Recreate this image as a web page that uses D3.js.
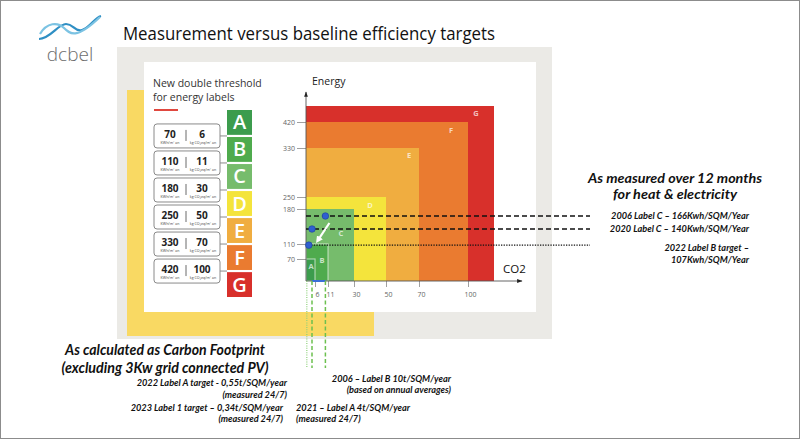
<!DOCTYPE html>
<html><head><meta charset="utf-8">
<script src="https://cdn.jsdelivr.net/npm/d3@7"></script>
<style>html,body{margin:0;padding:0;background:#fff}svg{display:block}</style>
</head><body><svg id="c" width="800" height="439"></svg>
<script>
// ---------- data ----------
const labels = ["A","B","C","D","E","F","G"];
const energyThresholds = [70,110,180,250,330,420];      // kWh/m² an
const co2Thresholds = [6,11,30,50,70,100];              // kg CO2eq/m² an
const energyExtent = [70,110,180,250,330,420,480];      // upper energy of each class box (G open-ended)
const co2Extent = [6,11,30,50,70,100,120];              // upper CO2 of each class box (G open-ended)
const labelColors = ["#3c9c4d","#4fab4d","#76bc6c","#f4e43c","#f0ad40","#ea7b30","#d8302b"];
const energyMeasures = [166,140,107];
const energyCo2 = [10,4,0.55];
const energyTexts = [["2006 Label C \u2013 166Kwh/SQM/Year"],["2020 Label C \u2013 140Kwh/SQM/Year"],["2022 Label B target \u2013","107Kwh/SQM/Year"]];
const co2Marks = [0.55,4,10];

const svg = d3.select("#c");
const font = "Lato, 'Open Sans', sans-serif";

// ---------- slide frame ----------
svg.append("rect").attr("x",0.5).attr("y",0.5).attr("width",799).attr("height",438).attr("fill","#fff").attr("stroke","#8c8c8c");

// logo
const logo = svg.append("g");
logo.append("path").attr("d","M39,39 C50,39 58,24 66,24 C74,24 74,32 82,30 C90,28 94,18 101,16")
  .attr("fill","none").attr("stroke","#2f8fc4").attr("stroke-width",2.2);
logo.append("path").attr("d","M40,34 C47,22 58,22 64,28 C70,34 76,40 100,17")
  .attr("fill","none").attr("stroke","#7cc3e3").attr("stroke-width",2.2);
logo.append("text").attr("x",70).attr("y",61).attr("text-anchor","middle")
  .attr("font-family","'Open Sans', sans-serif").attr("font-size",19).attr("font-weight",300)
  .attr("fill","#6d6d6d").text("dcbel");

svg.append("text").attr("x",123).attr("y",40).attr("font-family","'Open Sans', sans-serif")
  .attr("font-size",18).attr("fill","#111").attr("textLength",372).attr("lengthAdjust","spacingAndGlyphs")
  .text("Measurement versus baseline efficiency targets");

// panels
svg.append("rect").attr("x",117).attr("y",47).attr("width",435).attr("height",292).attr("fill","#ebeae6");
svg.append("rect").attr("x",127).attr("y",90).attr("width",17).attr("height",246).attr("fill","#f9d963");
svg.append("rect").attr("x",127).attr("y",312).attr("width",247).attr("height",24).attr("fill","#f9d963");
svg.append("rect").attr("x",144).attr("y",62).attr("width",392).attr("height",250).attr("fill","#fff");

// ---------- left legend ----------
svg.append("text").attr("x",153).attr("y",87).attr("font-family","'Open Sans', sans-serif").attr("font-size",10.5)
  .attr("fill","#333").text("New double threshold");
svg.append("text").attr("x",153).attr("y",101).attr("font-family","'Open Sans', sans-serif").attr("font-size",10.5)
  .attr("fill","#333").text("for energy labels");
svg.append("line").attr("x1",154).attr("x2",178).attr("y1",110).attr("y2",110).attr("stroke","#e0483f").attr("stroke-width",2);

const sq = d3.scaleBand().domain(labels).range([110,297]).paddingInner(0.08);
const sqG = svg.append("g");
sqG.selectAll("rect").data(labels).join("rect")
  .attr("x",227).attr("width",25).attr("y",d=>sq(d)).attr("height",sq.bandwidth())
  .attr("fill",(d,i)=>labelColors[i]);
sqG.selectAll("text").data(labels).join("text")
  .attr("x",239.5).attr("y",d=>sq(d)+sq.bandwidth()/2+7).attr("text-anchor","middle")
  .attr("font-family","'Open Sans', sans-serif").attr("font-size",20).attr("font-weight",600)
  .attr("fill","#fff").text(d=>d);

const boxes = svg.append("g").selectAll("g").data(energyThresholds).join("g")
  .attr("transform",(d,i)=>`translate(154,${(sq(labels[i])+sq.bandwidth()+sq(labels[i+1]))/2 - 12})`);
boxes.append("rect").attr("width",66).attr("height",24).attr("rx",3).attr("fill","#fff").attr("stroke","#8a8a8a").attr("stroke-width",1);
boxes.append("line").attr("x1",66).attr("x2",73).attr("y1",12).attr("y2",12).attr("stroke","#8a8a8a");
boxes.append("line").attr("x1",32).attr("x2",32).attr("y1",6).attr("y2",17).attr("stroke","#444").attr("stroke-width",0.8);
boxes.append("text").attr("x",16).attr("y",14).attr("text-anchor","middle").attr("font-family","'Open Sans', sans-serif")
  .attr("font-size",10).attr("font-weight",700).attr("fill","#222").text(d=>d);
boxes.append("text").attr("x",48).attr("y",14).attr("text-anchor","middle").attr("font-family","'Open Sans', sans-serif")
  .attr("font-size",10).attr("font-weight",700).attr("fill","#222").text((d,i)=>co2Thresholds[i]);
boxes.append("text").attr("x",16).attr("y",20).attr("text-anchor","middle").attr("font-family","'Open Sans', sans-serif")
  .attr("font-size",3.6).attr("fill","#444").text("KWh/m\u00b2 an");
boxes.append("text").attr("x",49).attr("y",20).attr("text-anchor","middle").attr("font-family","'Open Sans', sans-serif")
  .attr("font-size",3.6).attr("fill","#444").text("kg CO\u2082eq/m\u00b2 an");

// ---------- chart ----------
const y = d3.scaleLinear().domain([0,70,110,180,250,330,420,480]).range([281,259,244,209,197,148,122,106]);
const x = d3.scaleLinear().domain([0,6,11,30,50,70,100,120]).range([306,315,328,354,386,419,468,494]);

const cls = labels.map((l,i)=>({l,e:energyExtent[i],c:co2Extent[i],col:labelColors[i]})).reverse();
svg.append("g").selectAll("rect").data(cls).join("rect")
  .attr("x",x(0)).attr("y",d=>y(d.e)).attr("width",d=>x(d.c)-x(0)).attr("height",d=>y(0)-y(d.e))
  .attr("fill",d=>d.col)
  .attr("stroke",d=>(d.l==="A"||d.l==="B")?"rgba(255,255,255,0.55)":"none").attr("stroke-width",1.2);
const lblOff = {G:[-18,10],F:[-17,11],E:[-10,10],D:[-16,11],C:[-13,27],B:[-6,19],A:[-4,10]};
svg.append("g").selectAll("text").data(cls).join("text")
  .attr("x",d=>x(d.c)+lblOff[d.l][0]).attr("y",d=>y(d.e)+lblOff[d.l][1]).attr("text-anchor","middle")
  .attr("font-family","'Open Sans', sans-serif").attr("font-size",7.5).attr("font-weight",700)
  .attr("fill","rgba(255,255,255,0.7)").text(d=>d.l);

// axes
const defs = svg.append("defs");
defs.append("marker").attr("id","ar").attr("viewBox","0 0 10 10").attr("refX",9).attr("refY",5)
  .attr("markerWidth",6).attr("markerHeight",6).attr("orient","auto")
  .append("path").attr("d","M0,1.5 L10,5 L0,8.5 z").attr("fill","#222");
defs.append("marker").attr("id","wa").attr("viewBox","0 0 10 10").attr("refX",5).attr("refY",5)
  .attr("markerWidth",3.2).attr("markerHeight",3.2).attr("orient","auto")
  .append("path").attr("d","M0,0 L10,5 L0,10 z").attr("fill","#fff");

const yAx = svg.append("g").attr("transform",`translate(${x(0)},0)`)
  .call(d3.axisLeft(y).tickValues(energyThresholds).tickSize(9).tickPadding(2));
const xAx = svg.append("g").attr("transform",`translate(0,${y(0)})`)
  .call(d3.axisBottom(x).tickValues(co2Thresholds).tickSize(6).tickPadding(5));
[yAx,xAx].forEach(a=>{
  a.select(".domain").remove();
  a.selectAll(".tick line").attr("stroke","#888").attr("stroke-width",0.8);
  a.selectAll(".tick text").attr("fill","#666").attr("font-family","'Open Sans', sans-serif").attr("font-size",7);
});
xAx.selectAll(".tick text").attr("dx",d=>d<20?2:2);
svg.append("line").attr("x1",x(0)).attr("x2",x(0)).attr("y1",y(0)).attr("y2",92).attr("stroke","#555").attr("stroke-width",0.9).attr("marker-end","url(#ar)");
svg.append("line").attr("x1",x(0)).attr("x2",522).attr("y1",y(0)).attr("y2",y(0)).attr("stroke","#555").attr("stroke-width",0.9).attr("marker-end","url(#ar)");
svg.append("text").attr("x",312).attr("y",85).attr("font-family","'Open Sans', sans-serif").attr("font-size",10.5).attr("fill","#222").text("Energy");
svg.append("text").attr("x",503).attr("y",273).attr("font-family","'Open Sans', sans-serif").attr("font-size",11.5).attr("fill","#111").text("CO2");

// CO2 improvement segment along axis
svg.append("line").attr("x1",x(co2Marks[1])).attr("x2",x(co2Marks[2])).attr("y1",y(0)).attr("y2",y(0))
  .attr("stroke","#3a6fd8").attr("stroke-width",2);

// energy measurement lines
svg.append("g").selectAll("line").data(energyMeasures).join("line")
  .attr("x1",x(0)).attr("x2",590).attr("y1",d=>y(d)).attr("y2",d=>y(d))
  .attr("stroke","#111").attr("stroke-width",(d,i)=>i<2?1.4:1.3)
  .attr("stroke-dasharray",(d,i)=>i<2?"5,3":"1.3,1.3");

// co2 vertical lines
svg.append("g").selectAll("line").data(co2Marks).join("line")
  .attr("x1",d=>x(d)).attr("x2",d=>x(d)).attr("y1",y(0)).attr("y2",368)
  .attr("stroke",(d,i)=>i===0?"#8fd17a":"#6cc04f").attr("stroke-width",(d,i)=>i===0?1.2:1.5)
  .attr("stroke-dasharray",(d,i)=>i===0?"1,1.3":"4,2.5");

// improvement arrow
svg.append("line").attr("x1",x(energyCo2[0])+4).attr("y1",y(energyMeasures[0])+7)
  .attr("x2",x(energyCo2[1])+6).attr("y2",y(energyMeasures[2])-5)
  .attr("stroke","#fff").attr("stroke-width",2.2).attr("marker-end","url(#wa)");

// measurement dots
svg.append("g").selectAll("circle").data(energyMeasures).join("circle")
  .attr("cx",(d,i)=>x(energyCo2[i])+(i===2?2:0)).attr("cy",d=>y(d)).attr("r",3.3)
  .attr("fill","#2f5fcf").attr("stroke","#1d3f9a").attr("stroke-width",0.6);

// ---------- annotations ----------
const bi = sel=>sel.attr("font-family",font).attr("font-style","italic").attr("font-weight",700).attr("fill","#111");
bi(svg.append("text").attr("x",675).attr("y",183).attr("text-anchor","middle").attr("font-size",14)
  .attr("textLength",174).attr("lengthAdjust","spacingAndGlyphs").text("As measured over 12 months"));
bi(svg.append("text").attr("x",675).attr("y",199).attr("text-anchor","middle").attr("font-size",14)
  .attr("textLength",124).attr("lengthAdjust","spacingAndGlyphs").text("for heat & electricity"));

const rtx = svg.append("g");
energyTexts.forEach((lines,i)=>{
  lines.forEach((t,j)=>{
    bi(rtx.append("text").attr("x",749).attr("y",y(energyMeasures[i])+3+(i===2?3:0)+j*11.5)
      .attr("text-anchor","end").attr("font-size",9.2).text(t));
  });
});

bi(svg.append("text").attr("x",165).attr("y",355).attr("text-anchor","middle").attr("font-size",15)
  .attr("textLength",200).attr("lengthAdjust","spacingAndGlyphs").text("As calculated as Carbon Footprint"));
bi(svg.append("text").attr("x",165).attr("y",373).attr("text-anchor","middle").attr("font-size",15)
  .attr("textLength",207).attr("lengthAdjust","spacingAndGlyphs").text("(excluding 3Kw grid connected PV)"));

const small = (tx,xx,yy,anchor)=>bi(svg.append("text").attr("x",xx).attr("y",yy).attr("text-anchor",anchor).attr("font-size",9.2).text(tx));
small("2022 Label A target - 0,55t/SQM/year",287,386,"end");
small("(measured 24/7)",287,398,"end");
small("2023 Label 1 target \u2013 0,34t/SQM/year",283,411,"end");
small("(measured 24/7)",283,422,"end");
small("2006 \u2013 Label B 10t/SQM/year",451,382,"end");
small("(based on annual averages)",451,393,"end");
small("2021 \u2013 Label A 4t/SQM/year",296,411,"start");
small("(measured 24/7)",296,422,"start");
</script></body></html>
